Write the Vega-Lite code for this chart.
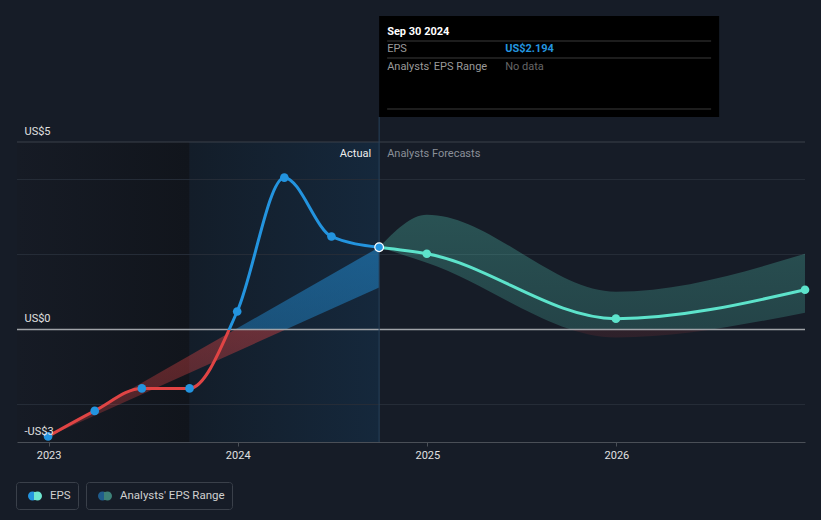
{
  "$schema": "https://vega.github.io/schema/vega-lite/v6.json",
  "width": 788,
  "height": 300,
  "autosize": {"type": "none"},
  "padding": {"left": 17, "top": 142, "right": 16, "bottom": 78},
  "background": "#161c27",
  "config": {
    "font": "Roboto",
    "view": {"stroke": null}
  },
  "datasets": {
    "actual": [
      {"date": "2022-12-31", "eps": -2.85},
      {"date": "2023-03-31", "eps": -2.17},
      {"date": "2023-06-30", "eps": -1.57},
      {"date": "2023-09-30", "eps": -1.57},
      {"date": "2023-12-31", "eps": 0.48},
      {"date": "2024-03-31", "eps": 4.05},
      {"date": "2024-06-30", "eps": 2.48},
      {"date": "2024-09-30", "eps": 2.194}
    ],
    "forecast": [
      {"date": "2024-09-30", "eps": 2.194, "low": 2.194, "high": 2.194},
      {"date": "2024-12-31", "eps": 2.02, "low": 1.78, "high": 3.06},
      {"date": "2025-12-31", "eps": 0.29, "low": -0.21, "high": 1.01},
      {"date": "2026-12-31", "eps": 1.06, "low": 0.45, "high": 2.02}
    ],
    "pastRange": [
      {"date": "2022-12-31", "low": -2.85, "high": -2.85},
      {"date": "2024-09-30", "low": 1.12, "high": 2.194}
    ],
    "grid": [{"v": -2}, {"v": 2}, {"v": 4}],
    "now": [{"date": "2024-09-30"}]
  },
  "encoding": {
    "x": {
      "field": "date",
      "type": "temporal",
      "scale": {
        "type": "utc",
        "domain": [
          {"year": 2022, "month": 11, "date": 1, "utc": true},
          {"year": 2026, "month": 12, "date": 31, "utc": true}
        ]
      },
      "axis": {
        "format": "%Y",
        "tickCount": {"interval": "year", "step": 1},
        "labelColor": "#e0e0e0",
        "labelFontSize": 11,
        "tickColor": "#4a4f57",
        "tickSize": 4,
        "domainColor": "#4a4f57",
        "grid": false,
        "title": null,
        "labelPadding": 3,
        "labelFlush": false,
        "zindex": 1
      }
    }
  },
  "layer": [
    {
      "data": {"values": [{"date": "2022-11-01", "end": "2023-09-30"}]},
      "mark": {"type": "rect", "fill": {"gradient": "linear", "x1": 0, "y1": 0, "x2": 1, "y2": 0, "stops": [{"offset": 0, "color": "#161b25"}, {"offset": 1, "color": "#11151c"}]}},
      "encoding": {
        "x2": {"field": "end"},
        "y": {"datum": 5, "type": "quantitative", "scale": {"domain": [-3, 5], "nice": false, "zero": false},
          "axis": {
            "values": [-3, 0, 5],
            "labelExpr": "datum.value < 0 ? '-US$' + abs(datum.value) : 'US$' + datum.value",
            "labelAlign": "left",
            "labelPadding": -7,
            "labelOffset": -8,
            "labelBaseline": "alphabetic",
            "ticks": false,
            "domain": false,
            "grid": false,
            "title": null,
            "labelColor": "#e0e0e0",
            "labelFontSize": 11,
            "labelFlush": false,
            "labelOverlap": false,
            "zindex": 1
          }
        },
        "y2": {"datum": -3}
      }
    },
    {
      "data": {"values": [{"date": "2023-09-30", "end": "2024-09-30"}]},
      "mark": {"type": "rect", "fill": {"gradient": "linear", "x1": 0, "y1": 0, "x2": 1, "y2": 0, "stops": [{"offset": 0, "color": "#131d29"}, {"offset": 1, "color": "#15283c"}]}},
      "encoding": {
        "x2": {"field": "end"},
        "y": {"datum": 5, "type": "quantitative"},
        "y2": {"datum": -3}
      }
    },
    {
      "data": {"name": "grid"},
      "mark": {"type": "rule", "color": "#252c37", "strokeWidth": 1},
      "encoding": {"x": null, "y": {"field": "v", "type": "quantitative"}}
    },
    {
      "data": {"values": [{"v": 5}]},
      "mark": {"type": "rule", "color": "#3b414b", "strokeWidth": 1},
      "encoding": {"x": null, "y": {"field": "v", "type": "quantitative"}}
    },
    {
      "data": {"name": "pastRange"},
      "mark": {"type": "area", "fill": {"gradient": "linear", "x1": 0, "y1": 0, "x2": 0, "y2": 1, "stops": [
        {"offset": 0, "color": "rgba(35,148,223,0.5)"},
        {"offset": 0.435, "color": "rgba(35,148,223,0.42)"},
        {"offset": 0.435, "color": "rgba(224,68,68,0.42)"},
        {"offset": 1, "color": "rgba(224,68,68,0.25)"}
      ]}},
      "encoding": {
        "y": {"field": "high", "type": "quantitative"},
        "y2": {"field": "low"}
      }
    },
    {
      "data": {"name": "forecast"},
      "mark": {"type": "area", "interpolate": "monotone", "strokeWidth": 0, "fill": {"gradient": "linear", "x1": 0, "y1": 0, "x2": 0, "y2": 1, "stops": [
        {"offset": 0, "color": "rgba(93,227,203,0.27)"},
        {"offset": 0.936, "color": "rgba(93,227,203,0.2)"},
        {"offset": 0.936, "color": "rgba(224,68,68,0.12)"},
        {"offset": 1, "color": "rgba(224,68,68,0.12)"}
      ]}},
      "encoding": {
        "y": {"field": "high", "type": "quantitative"},
        "y2": {"field": "low"}
      }
    },
    {
      "data": {"values": [{"v": 0}]},
      "mark": {"type": "rule", "color": "#a0a3a8", "strokeWidth": 1.3},
      "encoding": {"x": null, "y": {"field": "v", "type": "quantitative"}}
    },
    {
      "data": {"name": "now"},
      "mark": {"type": "rule", "color": "#27425c", "strokeWidth": 1},
      "encoding": {
        "y": {"value": -25},
        "y2": {"value": 300}
      }
    },
    {
      "data": {"name": "actual"},
      "mark": {"type": "line", "interpolate": "monotone", "strokeWidth": 3, "stroke": {"gradient": "linear", "x1": 0, "y1": 0, "x2": 0, "y2": 1, "stops": [
        {"offset": 0, "color": "#2394df"},
        {"offset": 0.587, "color": "#2394df"},
        {"offset": 0.587, "color": "#e04444"},
        {"offset": 1, "color": "#e04444"}
      ]}},
      "encoding": {"y": {"field": "eps", "type": "quantitative"}}
    },
    {
      "data": {"name": "forecast"},
      "mark": {"type": "line", "interpolate": "monotone", "strokeWidth": 3, "stroke": "#5de3cb"},
      "encoding": {"y": {"field": "eps", "type": "quantitative"}}
    },
    {
      "data": {"name": "forecast"},
      "transform": [{"filter": "datum.date != '2024-09-30'"}],
      "mark": {"type": "point", "filled": true, "size": 75, "opacity": 1, "fill": "#5de3cb", "strokeWidth": 0},
      "encoding": {"y": {"field": "eps", "type": "quantitative"}}
    },
    {
      "data": {"name": "actual"},
      "mark": {"type": "point", "filled": true, "size": 75, "opacity": 1, "fill": "#2394df", "strokeWidth": 0},
      "encoding": {"y": {"field": "eps", "type": "quantitative"}}
    },
    {
      "data": {"values": [{"date": "2024-09-30", "eps": 2.194}]},
      "mark": {"type": "point", "filled": true, "size": 75, "opacity": 1, "fill": "#2394df", "stroke": "#ffffff", "strokeWidth": 1.2},
      "encoding": {"y": {"field": "eps", "type": "quantitative"}}
    },
    {
      "data": {"name": "now"},
      "mark": {"type": "point", "filled": true, "opacity": 0, "strokeWidth": 0,
        "fill": {"gradient": "linear", "x1": 0, "y1": 0, "x2": 1, "y2": 0, "stops": [{"offset": 0, "color": "#2394df"}, {"offset": 0.45, "color": "#2394df"}, {"offset": 0.45, "color": "#6ee6d0"}, {"offset": 1, "color": "#6ee6d0"}]}},
      "encoding": {
        "y": {"value": 0},
        "stroke": {
          "datum": "EPS",
          "scale": {"range": ["transparent"]},
          "legend": {
            "orient": "none",
            "legendX": -1,
            "legendY": 340,
            "title": null,
            "padding": 7,
            "strokeColor": "#3a404a",
            "cornerRadius": 3,
            "symbolType": "M -1 0 A 0.643 0.643 0 1 0 0.286 0 A 0.643 0.643 0 1 0 -1 0 Z M -0.286 0 A 0.643 0.643 0 1 0 1 0 A 0.643 0.643 0 1 0 -0.286 0 Z",
            "symbolSize": 196,
            "symbolOffset": 5,
            "symbolOpacity": 1,
            "symbolStrokeWidth": 0,
            "labelOffset": 8,
            "labelFontSize": 11.5,
            "labelColor": "#d0d0d0"
          }
        }
      }
    },
    {
      "data": {"name": "now"},
      "mark": {"type": "point", "filled": true, "opacity": 0, "strokeWidth": 0,
        "fill": {"gradient": "linear", "x1": 0, "y1": 0, "x2": 1, "y2": 0, "stops": [{"offset": 0, "color": "#1f5c8c"}, {"offset": 0.45, "color": "#1f5c8c"}, {"offset": 0.45, "color": "#3d8178"}, {"offset": 1, "color": "#3d8178"}]}},
      "encoding": {
        "y": {"value": 0},
        "shape": {
          "datum": "Analysts' EPS Range",
          "scale": {"range": ["M -1 0 A 0.643 0.643 0 1 0 0.286 0 A 0.643 0.643 0 1 0 -1 0 Z M -0.286 0 A 0.643 0.643 0 1 0 1 0 A 0.643 0.643 0 1 0 -0.286 0 Z"]},
          "legend": {
            "orient": "none",
            "legendX": 69,
            "legendY": 340,
            "title": null,
            "padding": 7,
            "strokeColor": "#3a404a",
            "cornerRadius": 3,
            "symbolSize": 196,
            "symbolOffset": 5,
            "symbolOpacity": 1,
            "symbolStrokeWidth": 0,
            "labelOffset": 8,
            "labelFontSize": 11.5,
            "labelColor": "#d0d0d0"
          }
        }
      }
    },
    {
      "data": {"name": "now"},
      "mark": {"type": "text", "text": "Actual", "align": "right", "baseline": "middle", "dx": -8, "fontSize": 11, "color": "#eeeeee"},
      "encoding": {"y": {"value": 12}}
    },
    {
      "data": {"name": "now"},
      "mark": {"type": "text", "text": "Analysts Forecasts", "align": "left", "baseline": "middle", "dx": 8, "fontSize": 11, "color": "#8a8f98"},
      "encoding": {"y": {"value": 12}}
    },
    {
      "data": {"name": "now"},
      "mark": {"type": "rect", "fill": "#000000", "x2Offset": 340},
      "encoding": {
        "x2": {"field": "date"},
        "y": {"value": -126},
        "y2": {"value": -25}
      }
    },
    {
      "data": {"name": "now"},
      "mark": {"type": "rule", "color": "#3a3a3a", "strokeWidth": 1, "xOffset": 8, "x2Offset": 332},
      "encoding": {"x2": {"field": "date"}, "y": {"value": -101}}
    },
    {
      "data": {"name": "now"},
      "mark": {"type": "rule", "color": "#3a3a3a", "strokeWidth": 1, "xOffset": 8, "x2Offset": 332},
      "encoding": {"x2": {"field": "date"}, "y": {"value": -84}}
    },
    {
      "data": {"name": "now"},
      "mark": {"type": "rule", "color": "#3a3a3a", "strokeWidth": 1, "xOffset": 8, "x2Offset": 332},
      "encoding": {"x2": {"field": "date"}, "y": {"value": -33}}
    },
    {
      "data": {"name": "now"},
      "mark": {"type": "text", "text": "Sep 30 2024", "align": "left", "baseline": "middle", "dx": 8, "fontSize": 11, "fontWeight": "bold", "color": "#ffffff"},
      "encoding": {"y": {"value": -110}}
    },
    {
      "data": {"name": "now"},
      "mark": {"type": "text", "text": "EPS", "align": "left", "baseline": "middle", "dx": 8, "fontSize": 11, "color": "#9a9a9a"},
      "encoding": {"y": {"value": -93}}
    },
    {
      "data": {"name": "now"},
      "mark": {"type": "text", "text": "US$2.194", "align": "left", "baseline": "middle", "dx": 126, "fontSize": 11, "fontWeight": "bold", "color": "#2394df"},
      "encoding": {"y": {"value": -93}}
    },
    {
      "data": {"name": "now"},
      "mark": {"type": "text", "text": "Analysts' EPS Range", "align": "left", "baseline": "middle", "dx": 8, "fontSize": 11, "color": "#9a9a9a"},
      "encoding": {"y": {"value": -75}}
    },
    {
      "data": {"name": "now"},
      "mark": {"type": "text", "text": "No data", "align": "left", "baseline": "middle", "dx": 126, "fontSize": 11, "color": "#666666"},
      "encoding": {"y": {"value": -75}}
    }
  ]
}
